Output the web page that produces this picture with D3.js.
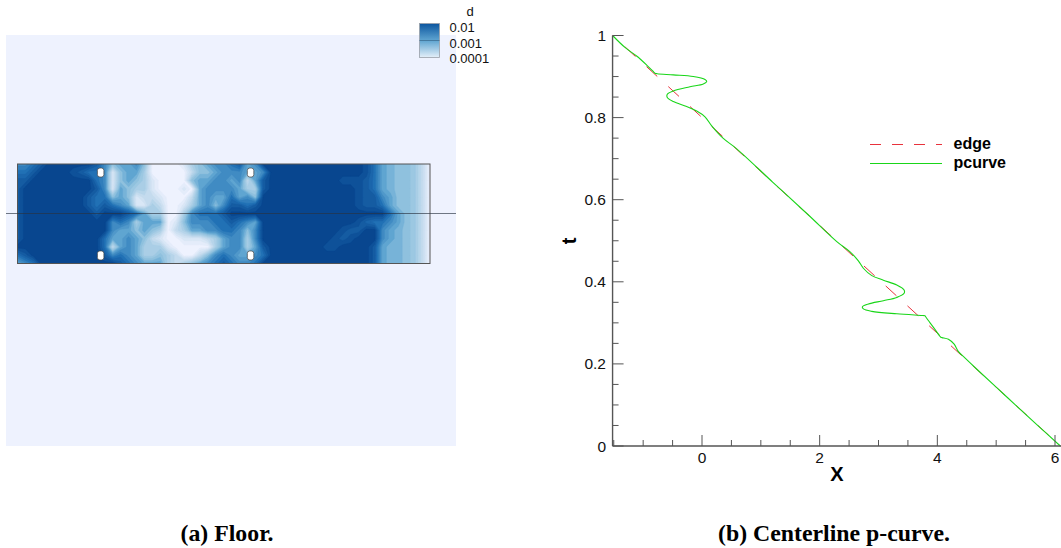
<!DOCTYPE html>
<html>
<head>
<meta charset="utf-8">
<script src="https://cdn.jsdelivr.net/npm/d3@7"></script>
<style>
  html, body { margin: 0; padding: 0; background: #fff; }
  svg { display: block; }
  .tick-label { font-family: "Liberation Sans", sans-serif; font-size: 15.5px; fill: #111; }
  .legend-label { font-family: "Liberation Sans", sans-serif; font-size: 16px; font-weight: bold; fill: #000; }
  .axis-title { font-family: "Liberation Sans", sans-serif; font-size: 20px; font-weight: bold; fill: #000; }
  .caption { font-family: "Liberation Serif", serif; font-size: 23.8px; font-weight: bold; fill: #000; }
</style>
</head>
<body>
<div id="chart"></div>
<script>
// Contour levels on the floor, 0 = 0.0001 and 9 = 0.01
const floorLevels = [
  [6,6,7,8,9,9,9,9,9,9,8,6,4,5,5,6,4,0,0,0,0,1,3,4,5,6,6,7,8,5,6,9,9,9,9,9,9,9,9,9,9,9,9,9,8.5,7,5,4.5,4,4,3.5,2,0],
  [7,7,8,9,9,9,9,8.5,8,7,7,6,1,4,5,5,3,0,0,0,0,0,2,4,4,5,6,6,6,5,5,6,9,9,9,9,9,9,9,9,9,9,9,9,8.5,7,5,4.5,4,4,3.5,2,0],
  [8,8,9,9,9,9,9,9,9,9,7,6,1,4,5,4,3,1,0,0,0,0,4,5,5,6,6,5,6,2,5,8,9,9,9,9,9,9,9,9,9,8.5,8.5,8.5,8,7,5,4.5,4,4,3.5,2,0],
  [8,9,9,9,9,9,9,9,9,9,8,6,1,5,4,3,3,1,0,0,0,1,0,5,6,6,6,6,5,3,3,8,9,9,9,9,9,9,9,9,9,9,9,8.5,8,7,5,4.5,4,4,3.5,2,0],
  [8,9,9,9,9,9,9,9,9,8,7,7,4,5,4,1,2,2,1,0,0,0,2,5,6,5,5,7,5,6,4,9,9,9,9,9,9,9,9,9,9,9,9,8.5,8,8,6,5,4,4,3.5,2,0],
  [8,9,9,9,9,9,9,9,9,8,7,8,7,6,5,1,1,3,2,0,0,1,3,5,6,4,6,8,8,7,8,9,9,9,9,9,9,9,9,9,9,9,9,8.5,8,8,7,5,4,4,3.5,2,0],
  [8,9,9,9,9,9,9,9,9,9,8,9,9,9,8,7,5,3,3,0,0,3,6,7,7,7,8,9,9,9,9,9,9,9,9,9,9,9,9,9,9,9,9,9,9,9,9,7,5,4,3.5,2,0],
  [8,9,9,9,9,9,9,9,9,9,9,9,6,7,6,3,5,5,5,0,1,4,6,6,6,7,7,8,7,6,5,9,9,9,9,9,9,9,9,9,9,9,9,8.5,7.5,7,7,6,5,4,3.5,2,0],
  [8,9,9,9,9,9,9,9,9,9,9,9,6,5,5,4,5,4,3,0,2,3,5,5,6,6,7,7,6,4,6,9,9,9,9,9,9,9,9,9,9,8.5,8,8,9,9,6,5,4.5,4,3.5,2,0],
  [8,9,9,9,9,9,9,9,9,9,9,7,5,5,6,5,4,2,1,0,0,1,1,1,2,3,5,6,6,3,6,9,9,9,9,9,9,9,9,9,8.5,8,8.5,9,9,9,6,5,4.5,4,3.5,2,0],
  [9,9,9,9,9,9,9,9,9,9,9,7,2,5,6,5,3,3,3,1,0,0,0,0,0,3,5,6,6,3,5,8,9,9,9,9,9,9,9,8.5,8.5,9,9,9,9,8,5,4.5,4.5,4,3.5,2,0],
  [7,8,9,9,9,9,9,9,9,9,9,8,6,7,6,5,3,3,4,3,2,0,0,2,4,6,7,6,5,5,6,7,9,9,9,9,9,9,9,9,9,9,9,9,9,8,5,4.5,4.5,4,3.5,2,0],
  [5,6,7,9,9,9,9,9,9,9,9,9,9,8,7,6,5,5,5,3,2,3,4,5,6,7,8,7,6,6,7,9,9,9,9,9,9,9,9,9,9,9,9,9,9,8,5,4.5,4.5,4,3.5,2,0]
];
const bandLevels = d3.range(0.25, 9, 0.5);
// Hole positions in grid columns and rows
const holeColumns = [10.45, 29.35];
const holeRows = [1.03, 11.03];
const colorbarLabels = ["0.01", "0.001", "0.0001"];

// Centerline p-curve
const edgeX = [-1.52, 6.09];
const edgeT = [1, 0];
const pcurveX = [-1.519,-1.31,-1.111,-0.94,-0.82,-0.799,-0.76,-0.488,-0.148,0.051,0.08,0.022,-0.204,-0.488,-0.59,-0.59,-0.488,-0.26,-0.09,0.051,0.165,0.357,0.59,1.2,1.8,2.291,2.517,2.658,2.743,2.886,3.083,3.311,3.435,3.435,3.311,3.083,2.828,2.726,2.743,2.886,3.311,3.74,3.78,3.793,3.81,3.934,4.04,4.059,4.08,4.189,4.286,4.359,4.473,4.672,5.2,5.7,6.09];
const pcurveT = [1,0.971,0.95,0.928,0.911,0.908,0.907,0.904,0.9,0.893,0.888,0.882,0.875,0.865,0.857,0.849,0.839,0.827,0.816,0.802,0.78,0.75,0.724,0.643,0.564,0.498,0.473,0.451,0.433,0.415,0.404,0.392,0.38,0.372,0.362,0.354,0.346,0.339,0.334,0.328,0.322,0.318,0.3175,0.317,0.313,0.289,0.268,0.265,0.264,0.26,0.248,0.23,0.214,0.187,0.117,0.051,0];
const xMajorTicks = [0, 2, 4, 6];
const xMinorTicks = [-1.5, -1, -0.5, 0.5, 1, 1.5, 2.5, 3, 3.5, 4.5, 5, 5.5];
const tMajorTicks = [0, 0.2, 0.4, 0.6, 0.8, 1];
const tMinorTicks = [0.05, 0.1, 0.15, 0.25, 0.3, 0.35, 0.45, 0.5, 0.55, 0.65, 0.7, 0.75, 0.85, 0.9, 0.95];
const legendNames = ["edge", "pcurve"];

const svg = d3.select("#chart").append("svg").attr("width", 1061).attr("height", 548);

/* ---------- Floor ---------- */
const floorColor = d3.scaleLinear()
  .domain([0, 2, 4, 5, 7, 9])
  .range(["#eef2fe", "#c4dbee", "#8fc1de", "#5fa5d1", "#2171b5", "#08468f"])
  .clamp(true);

const floorX = d3.scaleLinear().domain([0.5, 52.5]).range([17.5, 430]);
const floorY = d3.scaleLinear().domain([0.5, 12.5]).range([164, 263.5]);

svg.append("rect")
  .attr("x", 6).attr("y", 35).attr("width", 450).attr("height", 411)
  .attr("fill", floorColor(0));

svg.append("clipPath").attr("id", "floor-clip")
  .append("rect")
  .attr("x", floorX(0.5)).attr("y", floorY(0.5))
  .attr("width", floorX(52.5) - floorX(0.5)).attr("height", floorY(12.5) - floorY(0.5));

const contours = d3.contours().size([53, 13]).smooth(true).thresholds(bandLevels)(floorLevels.flat());
const floorPath = d3.geoPath(d3.geoTransform({
  point(x, y) { this.stream.point(floorX(x), floorY(y)); }
}));

svg.append("g").attr("clip-path", "url(#floor-clip)")
  .selectAll("path")
  .data(contours)
  .join("path")
  .attr("d", floorPath)
  .attr("fill", (d) => floorColor(d.value + 0.25))
  .attr("stroke", (d) => floorColor(d.value + 0.25))
  .attr("stroke-width", 0.4);

svg.append("rect")
  .attr("x", floorX(0.5)).attr("y", floorY(0.5))
  .attr("width", floorX(52.5) - floorX(0.5)).attr("height", floorY(12.5) - floorY(0.5))
  .attr("fill", "none").attr("stroke", "#555").attr("stroke-width", 1);

holeColumns.forEach((c) => holeRows.forEach((r) => {
  svg.append("rect")
    .attr("x", floorX(c + 0.5) - 3).attr("y", floorY(r + 0.5) - 4.5)
    .attr("width", 6.5).attr("height", 9).attr("rx", 2.5)
    .attr("fill", "#fff").attr("stroke", "#444").attr("stroke-width", 0.7);
}));

// centerline across the floor
svg.append("line")
  .attr("x1", 6).attr("x2", 456).attr("y1", 213.5).attr("y2", 213.5)
  .attr("stroke", "#2a3340").attr("stroke-opacity", 0.65).attr("stroke-width", 1.2);

/* ---------- Colorbar ---------- */
const barGrad = svg.append("defs").append("linearGradient")
  .attr("id", "bar-grad").attr("x1", 0).attr("x2", 0).attr("y1", 0).attr("y2", 1);
[[0, "#0b559f"], [0.5, "#5fa5d1"], [1, "#e4eff9"]].forEach((s) => {
  barGrad.append("stop").attr("offset", s[0]).attr("stop-color", s[1]);
});
svg.append("rect")
  .attr("x", 419.5).attr("y", 23.5).attr("width", 20).attr("height", 34)
  .attr("fill", "url(#bar-grad)").attr("stroke", "#9aa0a8").attr("stroke-width", 0.8);
svg.append("line")
  .attr("x1", 419.5).attr("x2", 439.5).attr("y1", 40.5).attr("y2", 40.5)
  .attr("stroke", "#3d6f93").attr("stroke-width", 0.8);
svg.append("text").attr("class", "tick-label").attr("x", 470).attr("y", 15.5)
  .attr("text-anchor", "middle").style("font-size", "13px").text("d");
svg.selectAll(".bar-label").data(colorbarLabels).join("text")
  .attr("class", "tick-label bar-label")
  .attr("x", 449.5)
  .attr("y", (d, i) => 32 + i * 15.5)
  .style("font-size", "13px")
  .text((d) => d);

/* ---------- Centerline p-curve ---------- */
const curveX = d3.scaleLinear().domain([0, 6]).range([702, 1055]);
const curveT = d3.scaleLinear().domain([0, 1]).range([446, 35.5]);
const axisColor = "#555";

const curveLine = d3.line().x((d) => curveX(d[0])).y((d) => curveT(d[1]));

svg.append("path")
  .attr("d", curveLine(d3.zip(edgeX, edgeT)))
  .attr("fill", "none").attr("stroke", "#e8323c").attr("stroke-width", 1)
  .attr("stroke-dasharray", "14.5,15").attr("stroke-dashoffset", 12.9);

svg.append("path")
  .attr("d", d3.line().curve(d3.curveCatmullRom.alpha(0.5)).x((d) => curveX(d[0])).y((d) => curveT(d[1]))(d3.zip(pcurveX, pcurveT)))
  .attr("fill", "none").attr("stroke", "#19d619").attr("stroke-width", 1.1);

const axisLeftX = curveX(-1.52);
svg.append("line").attr("x1", axisLeftX).attr("x2", axisLeftX)
  .attr("y1", curveT(1)).attr("y2", curveT(0))
  .attr("stroke", axisColor).attr("stroke-width", 1.4);
svg.append("line").attr("x1", axisLeftX).attr("x2", 1061)
  .attr("y1", curveT(0)).attr("y2", curveT(0))
  .attr("stroke", axisColor).attr("stroke-width", 1.4);

const tickG = svg.append("g").attr("stroke", axisColor).attr("stroke-width", 1);
xMajorTicks.concat(xMinorTicks).forEach((v) => {
  const len = xMajorTicks.includes(v) ? 11 : 6;
  tickG.append("line").attr("x1", curveX(v)).attr("x2", curveX(v))
    .attr("y1", curveT(0)).attr("y2", curveT(0) - len);
});
tMajorTicks.concat(tMinorTicks).forEach((v) => {
  const len = tMajorTicks.includes(v) ? 11 : 6;
  tickG.append("line").attr("x1", axisLeftX).attr("x2", axisLeftX + len)
    .attr("y1", curveT(v)).attr("y2", curveT(v));
});

svg.selectAll(".x-label").data(xMajorTicks).join("text")
  .attr("class", "tick-label x-label")
  .attr("x", (d) => curveX(d)).attr("y", 463).attr("text-anchor", "middle")
  .text((d) => d);
svg.selectAll(".t-label").data(tMajorTicks).join("text")
  .attr("class", "tick-label t-label")
  .attr("x", 606).attr("y", (d) => curveT(d) + 5.5).attr("text-anchor", "end")
  .text((d) => d);

svg.append("text").attr("class", "axis-title")
  .attr("x", 837).attr("y", 481).attr("text-anchor", "middle").text("X");
svg.append("text").attr("class", "axis-title")
  .attr("transform", "translate(576,241) rotate(-90)").attr("text-anchor", "middle").text("t");

/* ---------- Legend ---------- */
svg.append("line").attr("x1", 870).attr("x2", 942).attr("y1", 144.5).attr("y2", 144.5)
  .attr("stroke", "#e8323c").attr("stroke-width", 1).attr("stroke-dasharray", "11,11");
svg.append("line").attr("x1", 870).attr("x2", 942).attr("y1", 163.5).attr("y2", 163.5)
  .attr("stroke", "#19d619").attr("stroke-width", 1.1);
svg.selectAll(".legend-label").data(legendNames).join("text")
  .attr("class", "legend-label")
  .attr("x", 953.5).attr("y", (d, i) => 149 + i * 19)
  .text((d) => d);

/* ---------- Captions ---------- */
svg.append("text").attr("class", "caption").attr("x", 227).attr("y", 540.5)
  .attr("text-anchor", "middle").text("(a) Floor.");
svg.append("text").attr("class", "caption").attr("x", 834).attr("y", 540.5)
  .attr("text-anchor", "middle").text("(b) Centerline p-curve.");
</script>
</body>
</html>
